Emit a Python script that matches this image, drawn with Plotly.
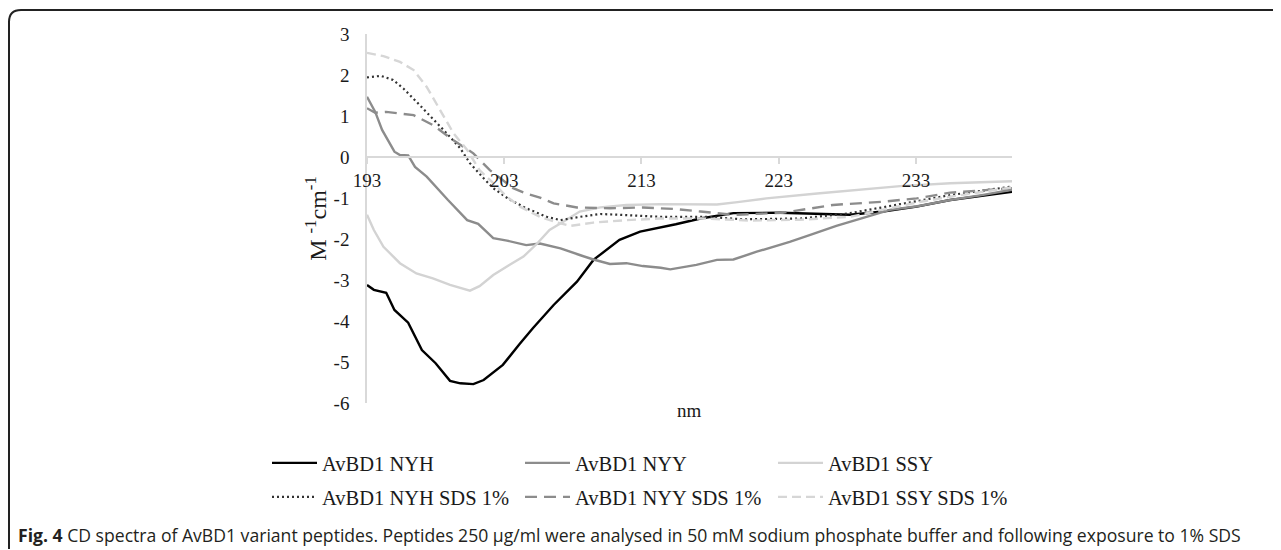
import plotly.graph_objects as go

# ---- data ----
nyh_x = [193, 193.5, 194.4, 195.0, 196.0, 197.0, 198.0, 199.05, 199.8, 200.75, 201.5, 202.9, 204.15,
         205.1, 206.6, 208.3, 209.5, 211.4, 212.9, 214.4, 215.5, 217.3, 219.7, 223.1, 225.5, 228.2,
         230.6, 233.05, 235.5, 238.0, 240]
nyh_y = [-3.12, -3.24, -3.31, -3.73, -4.04, -4.71, -5.03, -5.46, -5.52, -5.54, -5.44, -5.07, -4.55,
         -4.17, -3.61, -3.04, -2.51, -2.02, -1.82, -1.72, -1.64, -1.50, -1.37, -1.36, -1.38, -1.41,
         -1.33, -1.21, -1.05, -0.94, -0.85]

nyy_x = [193, 193.6, 194.1, 195.0, 195.4, 196.0, 196.5, 197.35, 198.9, 200.3, 201.1, 202.2, 203.2,
         204.6, 205.6, 207.1, 208.5, 209.5, 210.7, 211.9, 213.1, 214.4, 215.1, 217.0, 218.5, 219.7,
         221.4, 223.8, 225.3, 227.2, 229.4, 231.1, 233.1, 235.5, 237.8, 240]
nyy_y = [1.47, 1.10, 0.66, 0.13, 0.05, 0.04, -0.24, -0.48, -1.05, -1.54, -1.63, -1.98, -2.04,
         -2.15, -2.11, -2.23, -2.39, -2.50, -2.61, -2.59, -2.66, -2.70, -2.74, -2.63, -2.51, -2.50,
         -2.31, -2.07, -1.90, -1.68, -1.46, -1.29, -1.20, -1.05, -0.93, -0.80]

ssy_x = [193, 193.5, 194.2, 195.4, 196.6, 197.8, 199.05, 200.5, 201.2, 202.2, 203.4, 204.4, 205.4,
         206.3, 207.3, 208.5, 210.0, 211.9, 214.35, 216.5, 218.5, 220.0, 222.1, 225.8, 229.4, 231.85,
         235.5, 240]
ssy_y = [-1.41, -1.78, -2.19, -2.59, -2.84, -2.96, -3.12, -3.26, -3.15, -2.88, -2.63, -2.43, -2.11,
         -1.78, -1.58, -1.33, -1.23, -1.17, -1.15, -1.16, -1.16, -1.10, -1.01, -0.89, -0.79, -0.71,
         -0.64, -0.59]

nyh_sds_x = [193, 194.0, 194.9, 195.65, 196.6, 197.8, 198.8, 199.8, 200.5, 201.5, 202.2, 203.3,
             204.6, 206.1, 207.1, 208.5, 210.0, 211.4, 214.35, 217.8, 220.4, 224.6, 228.2, 231.85,
             235.5, 240]
nyh_sds_y = [1.94, 1.98, 1.88, 1.67, 1.35, 0.94, 0.58, 0.21, -0.15, -0.52, -0.76, -1.02,
             -1.25, -1.46, -1.54, -1.46, -1.39, -1.41, -1.46, -1.46, -1.52, -1.50, -1.37, -1.15,
             -0.93, -0.72]

nyy_sds_x = [193, 193.6, 194.4, 196.4, 197.8, 199.3, 200.75, 201.95, 203.65, 204.6, 205.6, 206.6,
             208.3, 210.7, 213.1, 215.5, 217.3, 219.7, 223.3, 226.95, 230.6, 233.05, 235.5, 240]
nyy_sds_y = [1.19, 1.08, 1.10, 1.02, 0.78, 0.41, 0.09, -0.32, -0.76, -0.89, -0.99, -1.13,
             -1.23, -1.25, -1.23, -1.27, -1.33, -1.41, -1.36, -1.17, -1.09, -1.01, -0.87, -0.76]

ssy_sds_x = [193, 194.2, 195.4, 196.4, 197.35, 198.3, 199.3, 200.3, 201.2, 202.2, 203.2, 204.15,
             205.6, 207.1, 207.8, 209.5, 211.9, 214.35, 217.5, 220.9, 224.5, 228.2, 230.6, 233.05,
             235.5, 240]
ssy_sds_y = [2.54, 2.46, 2.32, 2.12, 1.71, 1.15, 0.58, 0.17, -0.32, -0.64, -0.97, -1.21,
             -1.46, -1.62, -1.68, -1.60, -1.54, -1.50, -1.50, -1.55, -1.53, -1.46, -1.29, -1.11,
             -0.97, -0.74]

series_names = ["AvBD1 NYH", "AvBD1 NYY", "AvBD1 SSY",
                "AvBD1 NYH SDS 1%", "AvBD1 NYY SDS 1%", "AvBD1 SSY SDS 1%"]
x_tick_labels = ["193", "203", "213", "223", "233"]
y_tick_values = [3, 2, 1, 0, -1, -2, -3, -4, -5, -6]
y_tick_labels = ["3", "2", "1", "0", "-1", "-2", "-3", "-4", "-5", "-6"]

caption = ("<b>Fig. 4</b> CD spectra of AvBD1 variant peptides. Peptides 250 μg/ml were analysed in "
           "50 mM sodium phosphate buffer and following exposure to 1% SDS")

# ---- layout geometry (screen px of the reference; page has an 8px body margin) ----
OFF = 8
W, H = 1281 - OFF, 550 - OFF
L, R, T, B = 367 - OFF, 1012 - OFF, 34 - OFF, 403 - OFF


def px(xs):
    return (xs - OFF - L) / (R - L)


def py(ys):
    return (B - (ys - OFF)) / (B - T)


SERIF = "Liberation Serif, Times New Roman, serif"
AX = "#d9d9d9"
TXT = "#1a1a1a"

styles = [
    dict(color="#000000", width=2.4, dash="solid", legend="legend"),
    dict(color="#8c8c8c", width=2.4, dash="solid", legend="legend"),
    dict(color="#d3d3d3", width=2.4, dash="solid", legend="legend"),
    dict(color="#333333", width=2.2, dash="2px,3px", legend="legend2"),
    dict(color="#8c8c8c", width=2.4, dash="12px,7px", legend="legend2"),
    dict(color="#d6d6d6", width=2.4, dash="9px,5px", legend="legend2"),
]
xs_all = [nyh_x, nyy_x, ssy_x, nyh_sds_x, nyy_sds_x, ssy_sds_x]
ys_all = [nyh_y, nyy_y, ssy_y, nyh_sds_y, nyy_sds_y, ssy_sds_y]

fig = go.Figure()
for name, x, y, st in zip(series_names, xs_all, ys_all, styles):
    fig.add_trace(go.Scatter(
        x=x, y=y, name=name, mode="lines",
        line=dict(color=st["color"], width=st["width"], dash=st["dash"]),
        legend=st["legend"],
    ))

leg_common = dict(orientation="h", xanchor="left", yanchor="middle",
                  font=dict(family=SERIF, size=20.5, color=TXT),
                  bgcolor="rgba(0,0,0,0)", entrywidth=193, itemwidth=45,
                  tracegroupgap=0)

fig.update_layout(
    width=W, height=H,
    margin=dict(l=L, r=W - R, t=T, b=H - B),
    paper_bgcolor="white", plot_bgcolor="white",
    showlegend=True,
    legend=dict(x=px(267), y=py(463), **leg_common),
    legend2=dict(x=px(267), y=py(497), **leg_common),
    xaxis=dict(range=[193, 240], tickmode="array", tickvals=[int(t) for t in x_tick_labels],
               ticktext=x_tick_labels, ticks="outside", ticklen=6, tickcolor=AX, tickwidth=1.5,
               showline=True, linecolor=AX, linewidth=1.5, showgrid=False, zeroline=False,
               anchor="free", position=6 / 9,
               tickfont=dict(family=SERIF, size=19, color=TXT)),
    yaxis=dict(range=[-6, 3], tickmode="array", tickvals=y_tick_values, ticktext=y_tick_labels,
               ticks="", showline=True, linecolor=AX, linewidth=1.5, showgrid=False,
               zeroline=False, ticklabelstandoff=12,
               tickfont=dict(family=SERIF, size=19, color=TXT),
               title=dict(text="M <sup>-1</sup>cm<sup>-1</sup>", standoff=0,
                          font=dict(family=SERIF, size=24, color=TXT))),
    annotations=[
        dict(text="nm", xref="paper", yref="paper", x=0.5, y=py(411), xanchor="center",
             yanchor="middle", showarrow=False, font=dict(family=SERIF, size=19, color=TXT)),
        dict(text=caption, xref="paper", yref="paper", x=px(16), y=py(535), xanchor="left",
             yanchor="middle", showarrow=False,
             font=dict(family="Open Sans, Noto Sans, sans-serif", size=17.6, color="#231f20")),
    ],
    shapes=[
        dict(type="path", xref="paper", yref="paper",
             path=(f"M {px(9)},{py(549)} L {px(9)},{py(22)} Q {px(9)},{py(10)} {px(21)},{py(10)} "
                   f"L {px(1290)},{py(10)}"),
             line=dict(color="#222222", width=2)),
    ],
)

fig.write_html("out.html")
